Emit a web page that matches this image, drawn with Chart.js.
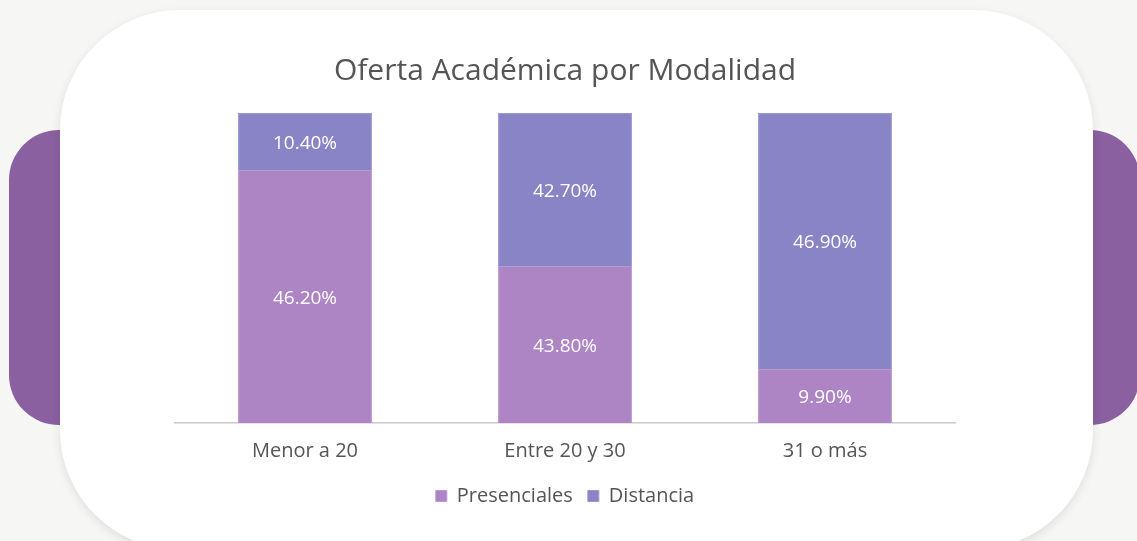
<!DOCTYPE html>
<html>
<head>
<meta charset="utf-8">
<script src="https://cdn.jsdelivr.net/npm/chart.js@4.4.1/dist/chart.umd.min.js"></script>
<style>
  html, body { margin:0; padding:0; width:1137px; height:541px; overflow:hidden; background:#f6f6f4; }
  .pill { position:absolute; background:#8a60a0; border-radius:50px; }
  #pl { left:9px; top:130px; width:140px; height:295px; }
  #pr { left:1000px; top:130px; width:140px; height:295px; }
  #card { position:absolute; left:60px; top:10px; width:1033px; height:540px; background:#fff; border-radius:120px; box-shadow:0 3px 10px rgba(0,0,0,0.10); }
  #wrap { position:absolute; left:0; top:0; width:1137px; height:541px; }
</style>
</head>
<body>
<div class="pill" id="pl"></div>
<div class="pill" id="pr"></div>
<div id="card"></div>
<div id="wrap"><canvas id="c" width="1137" height="541"></canvas></div>
<script>
const categories = ["Menor a 20", "Entre 20 y 30", "31 o más"];
const presenciales = [46.2, 43.8, 9.9];
const distancia = [10.4, 42.7, 46.9];
const seriesNames = ["Presenciales", "Distancia"];
const chartTitle = "Oferta Académica por Modalidad";

const totals = categories.map((_, i) => presenciales[i] + distancia[i]);
const share = arr => arr.map((v, i) => v / totals[i] * 100);
const raw = [presenciales, distancia];

const FONT = "'Open Sans', Lato, sans-serif";

const labelPlugin = {
  id: 'segLabels',
  afterDatasetsDraw(chart) {
    const ctx = chart.ctx;
    ctx.save();
    ctx.fillStyle = '#ffffff';
    ctx.font = '19px ' + FONT;
    ctx.textAlign = 'center';
    ctx.textBaseline = 'middle';
    chart.data.datasets.forEach((ds, di) => {
      chart.getDatasetMeta(di).data.forEach((bar, i) => {
        const p = bar.getProps(['x', 'y', 'base'], true);
        const yc = (p.y + p.base) / 2 + 2;
        ctx.fillText(raw[di][i].toFixed(2) + '%', p.x, yc);
      });
    });
    ctx.restore();
  }
};

new Chart(document.getElementById('c'), {
  type: 'bar',
  data: {
    labels: categories,
    datasets: [
      { label: seriesNames[0], data: share(presenciales), backgroundColor: '#ad84c4', borderColor: '#b99ad0', borderWidth: 1, categoryPercentage: 1, barPercentage: 0.515 },
      { label: seriesNames[1], data: share(distancia), backgroundColor: '#8884c6', borderColor: '#9c98d2', borderWidth: 1, categoryPercentage: 1, barPercentage: 0.515 }
    ]
  },
  options: {
    responsive: false,
    animation: false,
    events: [],
    layout: { padding: { left: 175, right: 182, top: 53, bottom: 25 } },
    scales: {
      x: {
        stacked: true,
        grid: { display: false },
        border: { display: true, color: '#c8c8c8', width: 1.5 },
        ticks: { color: '#555555', font: { family: FONT, size: 20 }, padding: 8 }
      },
      y: { stacked: true, display: false, min: 0, max: 100 }
    },
    plugins: {
      title: { display: true, text: chartTitle, color: '#555555', font: { family: FONT, size: 30, weight: 'normal' }, padding: { top: 0, bottom: 24 } },
      legend: {
        display: true, position: 'bottom',
        labels: { color: '#555555', font: { family: FONT, size: 20 }, boxWidth: 11, boxHeight: 11, padding: 15 }
      },
      tooltip: { enabled: false }
    }
  },
  plugins: [labelPlugin]
});
</script>
</body>
</html>
